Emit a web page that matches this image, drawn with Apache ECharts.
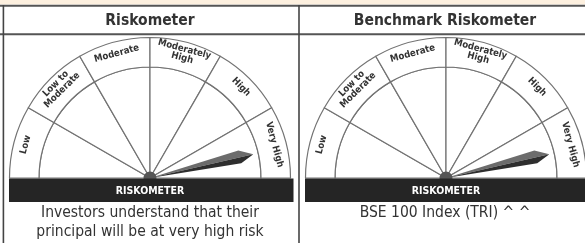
<!DOCTYPE html>
<html>
<head>
<meta charset="utf-8">
<script src="https://cdn.jsdelivr.net/npm/echarts@6/dist/echarts.min.js"></script>
<style>
  html, body { margin: 0; padding: 0; background: #fff; }
  #chart { width: 585px; height: 243px; }
</style>
</head>
<body>
<div id="chart"></div>
<script>
// risk bands, left to right round the dial
const riskLevels = ['Low', 'Low to\nModerate', 'Moderate', 'Moderately\nHigh', 'High', 'Very High']
const panelTitles = ['Riskometer', 'Benchmark Riskometer']
// needle position on a 0..6 scale (one unit per band)
const needleValues = [5.57, 5.57]
const captions = [
  ['Investors understand that their', 'principal will be at very high risk'],
  ['BSE 100 Index (TRI) ^ ^'],
]

const NARROW = "'Liberation Sans Narrow', 'DejaVu Sans Condensed', 'Liberation Sans', sans-serif"
const LINE = '#727272'
const INK = '#333'
const cy = 178
const rOuter = 140.5
const rInner = 111
const dials = [
  { cx: 150, barX: 9, barW: 284.5, textX: 150 },
  { cx: 446, barX: 305, barW: 280, textX: 445 },
]

const chart = echarts.init(document.getElementById('chart'), null, { renderer: 'canvas' })

const blank = { name: '', value: riskLevels.length, itemStyle: { color: 'transparent', borderWidth: 0 }, label: { show: false } }

const dialSeries = (d, i) => {
  const base = {
    type: 'pie',
    center: [d.cx, cy],
    startAngle: 180,
    clockwise: true,
    silent: true,
    animation: false,
    labelLine: { show: false },
    emphasis: { disabled: true },
    itemStyle: { color: '#fff', borderColor: LINE, borderWidth: 1.2 },
  }
  const gaugeBase = {
    type: 'gauge',
    center: [d.cx, cy],
    radius: rOuter,
    startAngle: 180,
    endAngle: 0,
    min: 0,
    max: riskLevels.length,
    silent: true,
    animation: false,
    axisLine: { show: false },
    axisTick: { show: false },
    splitLine: { show: false },
    axisLabel: { show: false },
    title: { show: false },
    detail: { show: false },
    data: [{ value: needleValues[i] }],
  }
  return [
    {
      ...base,
      radius: [0, rInner],
      label: { show: false },
      data: riskLevels.map(n => ({ name: n, value: 1 })).concat([blank]),
    },
    {
      ...base,
      radius: [rInner, rOuter],
      label: {
        show: true,
        position: 'inside',
        rotate: 'tangential',
        color: INK,
        fontWeight: 'bold',
        fontSize: 9.5,
        lineHeight: 9,
        fontFamily: NARROW,
      },
      data: riskLevels.map(n => ({ name: n, value: 1 })).concat([blank]),
    },
    {
      ...gaugeBase,
      z: 4,
      pointer: {
        icon: 'path://M5,0 L0,13 L5,100 Z',
        width: 7,
        length: 106,
        offsetCenter: [-3.5, 0],
        itemStyle: { color: '#6c6c6c' },
      },
      anchor: { show: true, showAbove: true, size: 13, icon: 'circle', itemStyle: { color: '#555' } },
    },
    {
      ...gaugeBase,
      z: 4,
      pointer: {
        icon: 'path://M0,0 L5,13 L0,100 Z',
        width: 6,
        length: 106,
        offsetCenter: [3, 0],
        itemStyle: { color: '#2e2e2e' },
      },
      anchor: { show: false },
    },
  ]
}

const graphics = [
  { type: 'rect', shape: { x: 0, y: 0, width: 585, height: 4.5 }, style: { fill: '#fdf0df' }, silent: true },
  { type: 'line', shape: { x1: 0, y1: 5.8, x2: 585, y2: 5.8 }, style: { stroke: '#555', lineWidth: 2 }, silent: true },
  { type: 'line', shape: { x1: 0, y1: 34.2, x2: 585, y2: 34.2 }, style: { stroke: '#555', lineWidth: 2 }, silent: true },
  { type: 'line', shape: { x1: 3.4, y1: 5, x2: 3.4, y2: 243 }, style: { stroke: '#444', lineWidth: 1.6 }, silent: true },
  { type: 'line', shape: { x1: 299, y1: 5, x2: 299, y2: 243 }, style: { stroke: '#444', lineWidth: 1.6 }, silent: true },
]

dials.forEach((d, i) => {
  graphics.push({
    type: 'text', z: 100, silent: true,
    style: { x: d.textX, y: 20.5, text: panelTitles[i], align: 'center', verticalAlign: 'middle',
      fill: INK, font: `bold 15.5px ${NARROW}` },
  })
  graphics.push({
    type: 'rect', z: 100, silent: true,
    shape: { x: d.barX, y: 178.5, width: d.barW, height: 23.5 },
    style: { fill: '#252525' },
  })
  graphics.push({
    type: 'text', z: 101, silent: true,
    style: { x: d.cx, y: 191, text: 'RISKOMETER', align: 'center', verticalAlign: 'middle',
      fill: '#fff', font: `bold 10.5px ${NARROW}` },
  })
  captions[i].forEach((line, k) => {
    graphics.push({
      type: 'text', z: 100, silent: true,
      style: { x: d.textX, y: 213 + k * 18.5, text: line, align: 'center', verticalAlign: 'middle',
        fill: INK, font: `15.5px ${NARROW}` },
    })
  })
})

chart.setOption({
  animation: false,
  series: dials.flatMap(dialSeries),
  graphic: graphics,
})
</script>
</body>
</html>
